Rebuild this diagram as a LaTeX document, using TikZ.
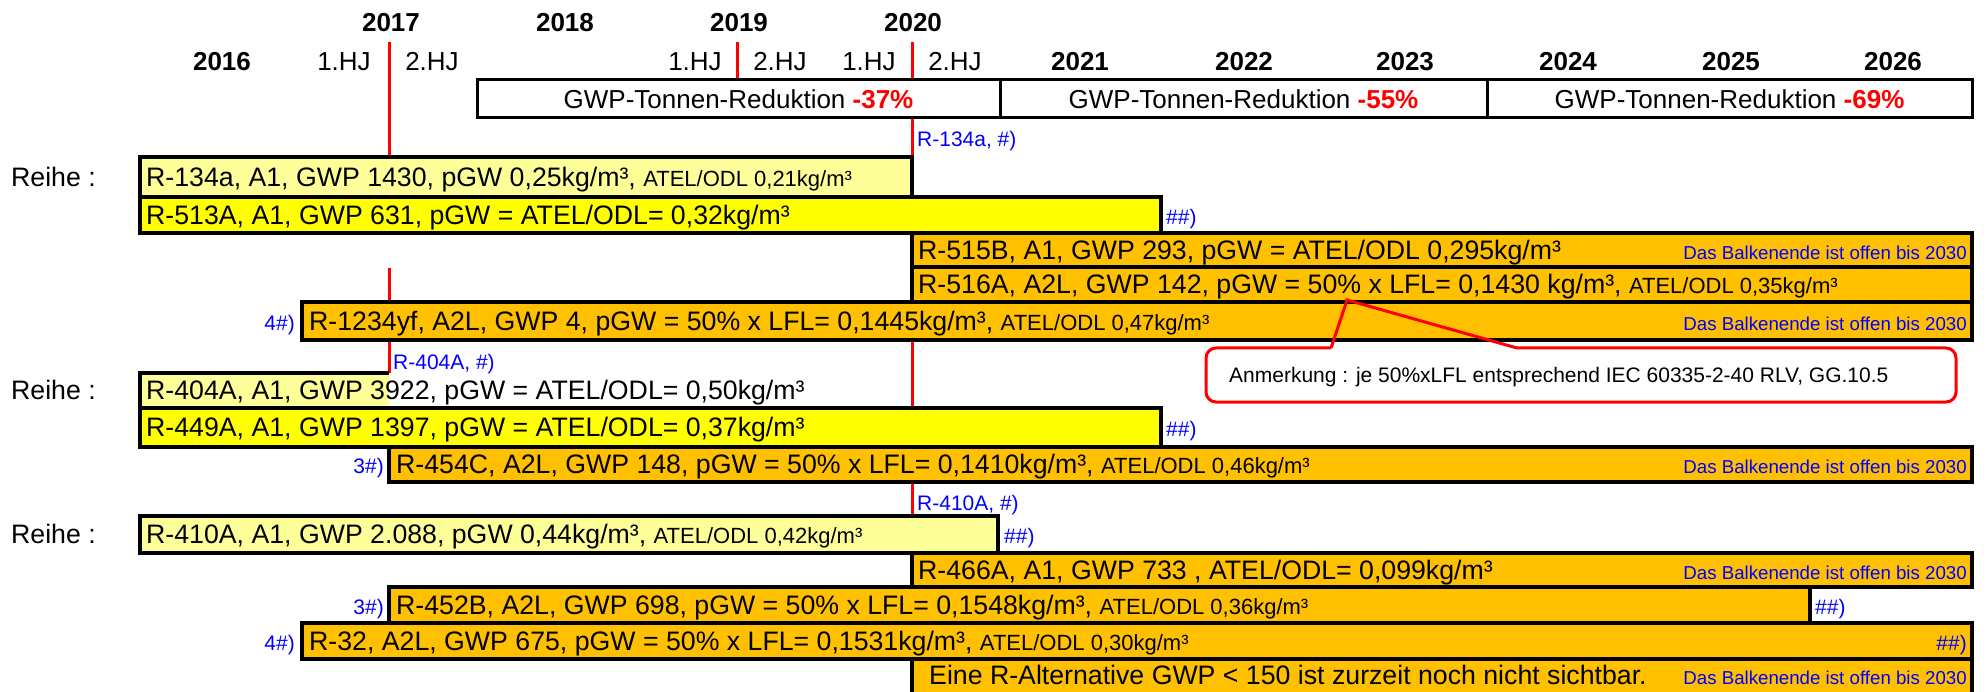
\documentclass[tikz,border=0pt]{standalone}
\usepackage{fontspec}
\setmainfont{Liberation Sans}
\usetikzlibrary{positioning}
\definecolor{PaleYellow}{RGB}{255,255,153}
\definecolor{BarYellow}{RGB}{255,255,0}
\definecolor{BarOrange}{RGB}{255,192,0}
\definecolor{HintBlue}{RGB}{0,0,255}
\definecolor{MarkRed}{RGB}{255,0,0}
\newcommand\minor{\fontsize{22}{25}\selectfont}
\tikzset{
  bar/.style={draw=black, line width=3.5pt},
  bartext/.style={anchor=base west, inner sep=0pt, font=\fontsize{26.7}{30}\selectfont},
  year/.style={anchor=base, inner sep=0pt, font=\fontsize{26}{30}\selectfont\bfseries},
  halfyear/.style={anchor=base, inner sep=0pt, font=\fontsize{26}{30}\selectfont},
  hint/.style={inner sep=0pt, text=HintBlue, font=\fontsize{21}{24}\selectfont},
  openend/.style={anchor=base east, inner sep=0pt, text=HintBlue, font=\fontsize{18.7}{22}\selectfont},
  redline/.style={draw=MarkRed, line width=3pt},
  callout/.style={draw=MarkRed, line width=3pt}
}

\begin{document}
\begin{tikzpicture}[x=1pt,y=-1pt]
  \useasboundingbox (0,0) rectangle (1986,692);
  \clip (0,0) rectangle (1986,692);

  % Zeitachse
  \foreach \x/\t in {391/2017,565/2018,739/2019,913/2020}
    \node[year] (top\t) at (\x,31.7) {\t};
  \foreach \x/\t in {222/2016,1080/2021,1244/2022,1405/2023,1568/2024,1731/2025,1893/2026}
    \node[year] (yr\t) at (\x,70.7) {\t};
  \foreach \x/\t [count=\i] in {344/1.HJ,432/2.HJ,695/1.HJ,780/2.HJ,869/1.HJ,955/2.HJ}
    \node[halfyear] (hj\i) at (\x,70.7) {\t};

  % rote Stichtage
  \foreach \x/\ya/\yb in {389/42/157,389/268/302,389/340/373,737/42/80,912/42/80,912/118/157,912/340/408,912/482/516}
    \draw[redline] (\x,\ya) -- (\x,\yb);

  % GWP-Reduktion
  \draw[line width=3pt] (477,80) rectangle (1972,118);
  \draw[line width=3pt] (1000,80) -- (1000,118);
  \draw[line width=3pt] (1487,80) -- (1487,118);
  \foreach \x/\p [count=\i] in {738.5/37,1243.5/55,1729.5/69}
    \node[halfyear] (red\i) at (\x,108.3) {GWP-Tonnen-Reduktion \textbf{\textcolor{MarkRed}{-\p\%}}};

  % Balken
  \fill[PaleYellow] (140,373) rectangle (389,408);
  \draw[bar] (389,373) -- (140,373) -- (140,408) -- (389,408);
  \foreach \xa/\xb/\ya/\yb/\col in {
      140/912/157/197/PaleYellow, 140/1161/197/233/BarYellow,
      912/1972/233/267/BarOrange, 912/1972/267/302/BarOrange,
      302/1972/302/340/BarOrange,
      140/1161/408/447/BarYellow, 389/1972/447/482/BarOrange,
      140/998/516/553/PaleYellow, 912/1972/553/587/BarOrange,
      389/1810/587/623/BarOrange, 302/1972/623/659/BarOrange,
      912/1972/659/700/BarOrange}
    \draw[bar, fill=\col] (\xa,\ya) rectangle (\xb,\yb);

  % Reihe 1
  \node[bartext] (row1) at (11,186.3) {Reihe :};
  \node[bartext] (r134a) at (146,186.3) {R-134a, A1, GWP 1430, pGW 0,25kg/m³, {\minor ATEL/ODL 0,21kg/m³}};
  \node[hint, anchor=base west] (h134a) at (917,146.7) {R-134a, \#)};
  \node[bartext] (r513a) at (146,224.3) {R-513A, A1, GWP 631, pGW = ATEL/ODL= 0,32kg/m³};
  \node[hint, anchor=base west] (h513a) at (1166,224.3) {\#\#)};
  \node[bartext] (r515b) at (918,259.3) {R-515B, A1, GWP 293, pGW = ATEL/ODL 0,295kg/m³};
  \node[openend] (e515b) at (1967,259.3) {Das Balkenende ist offen bis 2030};
  \node[bartext] (r516a) at (918,293.8) {R-516A, A2L, GWP 142, pGW = 50\% x LFL= 0,1430 kg/m³, {\minor ATEL/ODL 0,35kg/m³}};
  \node[bartext] (r1234yf) at (309,330.3) {R-1234yf, A2L, GWP 4, pGW = 50\% x LFL= 0,1445kg/m³, {\minor ATEL/ODL 0,47kg/m³}};
  \node[hint, anchor=base east] (h1234yf) at (295,330.3) {4\#)};
  \node[openend] (e1234yf) at (1967,330.3) {Das Balkenende ist offen bis 2030};

  % Reihe 2
  \node[bartext] (row2) at (11,399.8) {Reihe :};
  \node[hint, anchor=base west] (h404a) at (393,370) {R-404A, \#)};
  \node[bartext] (r404a) at (146,399.8) {R-404A, A1, GWP 3922, pGW = ATEL/ODL= 0,50kg/m³};
  \node[bartext] (r449a) at (146,436.8) {R-449A, A1, GWP 1397, pGW = ATEL/ODL= 0,37kg/m³};
  \node[hint, anchor=base west] (h449a) at (1166,436.8) {\#\#)};
  \node[bartext] (r454c) at (396,473.8) {R-454C, A2L, GWP 148, pGW = 50\% x LFL= 0,1410kg/m³, {\minor ATEL/ODL 0,46kg/m³}};
  \node[hint, anchor=base east] (h454c) at (384,473.8) {3\#)};
  \node[openend] (e454c) at (1967,473.8) {Das Balkenende ist offen bis 2030};

  % Reihe 3
  \node[bartext] (row3) at (11,543.8) {Reihe :};
  \node[hint, anchor=base west] (h410a) at (917,510) {R-410A, \#)};
  \node[bartext] (r410a) at (146,543.8) {R-410A, A1, GWP 2.088, pGW 0,44kg/m³, {\minor ATEL/ODL 0,42kg/m³}};
  \node[hint, anchor=base west] (h410b) at (1004,543.8) {\#\#)};
  \node[bartext] (r466a) at (918,579.3) {R-466A, A1, GWP 733 , ATEL/ODL= 0,099kg/m³};
  \node[openend] (e466a) at (1967,579.3) {Das Balkenende ist offen bis 2030};
  \node[bartext] (r452b) at (396,614.3) {R-452B, A2L, GWP 698, pGW = 50\% x LFL= 0,1548kg/m³, {\minor ATEL/ODL 0,36kg/m³}};
  \node[hint, anchor=base east] (h452b) at (384,614.3) {3\#)};
  \node[hint, anchor=base west] (e452b) at (1815,614.3) {\#\#)};
  \node[bartext] (r32) at (309,650.3) {R-32, A2L, GWP 675, pGW = 50\% x LFL= 0,1531kg/m³, {\minor ATEL/ODL 0,30kg/m³}};
  \node[hint, anchor=base east] (h32) at (295,650.3) {4\#)};
  \node[hint, anchor=base east] (e32) at (1967,650.3) {\#\#)};
  \node[bartext] (rnone) at (929,684.8) {Eine R-Alternative GWP < 150 ist zurzeit noch nicht sichtbar.};
  \node[openend] (enone) at (1967,684.8) {Das Balkenende ist offen bis 2030};

  % Anmerkung
  \coordinate (tip) at (1347,300);
  \coordinate (footl) at (1331,348);
  \coordinate (footr) at (1517,348);
  \draw[callout, rounded corners=10pt] (footl) -- (1206,348) -- (1206,402) -- (1956,402) -- (1956,348) -- (footr);
  \draw[callout] (footl) -- (tip) -- (footr);
  \node[hint, text=black, anchor=base west] (note) at (1229,382.7) {Anmerkung : je 50\%xLFL entsprechend IEC 60335-2-40 RLV, GG.10.5};
\end{tikzpicture}
\end{document}
